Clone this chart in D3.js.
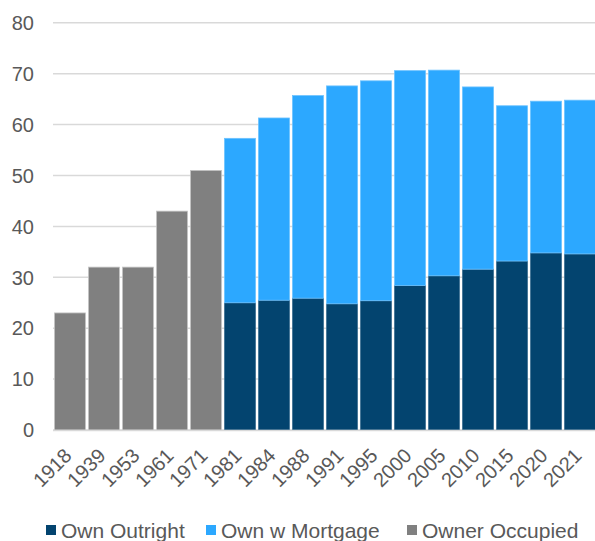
<!DOCTYPE html>
<html>
<head>
<meta charset="utf-8">
<script src="https://cdn.jsdelivr.net/npm/d3@7"></script>
<style>
  html, body { margin: 0; padding: 0; background: #fff; }
  svg { display: block; }
  text { font-family: "Liberation Sans", Arial, sans-serif; fill: #595959; }
</style>
</head>
<body>
<svg id="chart" width="595" height="541"></svg>
<script>
const years = ["1918","1939","1953","1961","1971","1981","1984","1988","1991","1995","2000","2005","2010","2015","2020","2021"];
const ownOutright   = [0,0,0,0,0,25.0,25.5,25.9,24.8,25.4,28.4,30.3,31.6,33.2,34.8,34.6];
const ownMortgage   = [0,0,0,0,0,32.3,35.8,39.8,42.8,43.2,42.2,40.4,35.8,30.5,29.8,30.2];
const ownerOccupied = [23,32,32,43,51,0,0,0,0,0,0,0,0,0,0,0];
const yTicks = [0,10,20,30,40,50,60,70,80];
const seriesNames = ["Own Outright","Own w Mortgage","Owner Occupied"];
const seriesColors = ["#03446f","#2ca8ff","#808080"];
const seriesStroke = ["#3b6e91","#6cc2ff","#c4c4c4"];

const svg = d3.select("#chart");
const x = d3.scaleBand().domain(years).range([53, 597]).paddingInner(0.09).paddingOuter(0.045);
const y = d3.scaleLinear().domain([0, 80]).range([430, 22.8]);

// gridlines
svg.append("g").selectAll("line").data(yTicks).join("line")
  .attr("x1", 53).attr("x2", 595)
  .attr("y1", d => y(d)).attr("y2", d => y(d))
  .attr("stroke", "#d9d9d9").attr("stroke-width", 1.5);

// y labels
svg.append("g").selectAll("text").data(yTicks).join("text")
  .attr("x", 34).attr("y", d => y(d)).attr("dy", "0.36em")
  .attr("text-anchor", "end").style("font-size", "20px")
  .text(d => d);

// stacked data
const rows = years.map((yr, i) => ({year: yr, a: ownOutright[i], b: ownMortgage[i], c: ownerOccupied[i]}));
const stack = d3.stack().keys(["a","b","c"]);
const stacked = stack(rows);

stacked.forEach((layer, k) => {
  svg.append("g").selectAll("rect").data(layer.filter(d => d[1] - d[0] > 0)).join("rect")
    .attr("x", d => x(d.data.year))
    .attr("width", x.bandwidth())
    .attr("y", d => y(d[1]))
    .attr("height", d => y(d[0]) - y(d[1]))
    .attr("fill", seriesColors[k])
    .attr("stroke", seriesStroke[k])
    .attr("stroke-width", 0.8);
});

// x axis line
svg.append("line").attr("x1", 53).attr("x2", 595).attr("y1", 430.5).attr("y2", 430.5)
  .attr("stroke", "#d9d9d9").attr("stroke-width", 1.5);

// x labels
svg.append("g").selectAll("text").data(years).join("text")
  .attr("transform", d => `translate(${x(d) + x.bandwidth()/2 - 7},${447}) rotate(-45)`)
  .attr("text-anchor", "end").attr("dy", "0.7em")
  .style("font-size", "20px")
  .text(d => d);

// legend
const legendX = [46, 206, 407];
const lg = svg.append("g");
seriesNames.forEach((name, i) => {
  lg.append("rect").attr("x", legendX[i]).attr("y", 525).attr("width", 10).attr("height", 10)
    .attr("fill", seriesColors[i]);
  lg.append("text").attr("x", legendX[i] + 15).attr("y", 537.5)
    .style("font-size", "21px").text(name);
});
</script>
</body>
</html>
